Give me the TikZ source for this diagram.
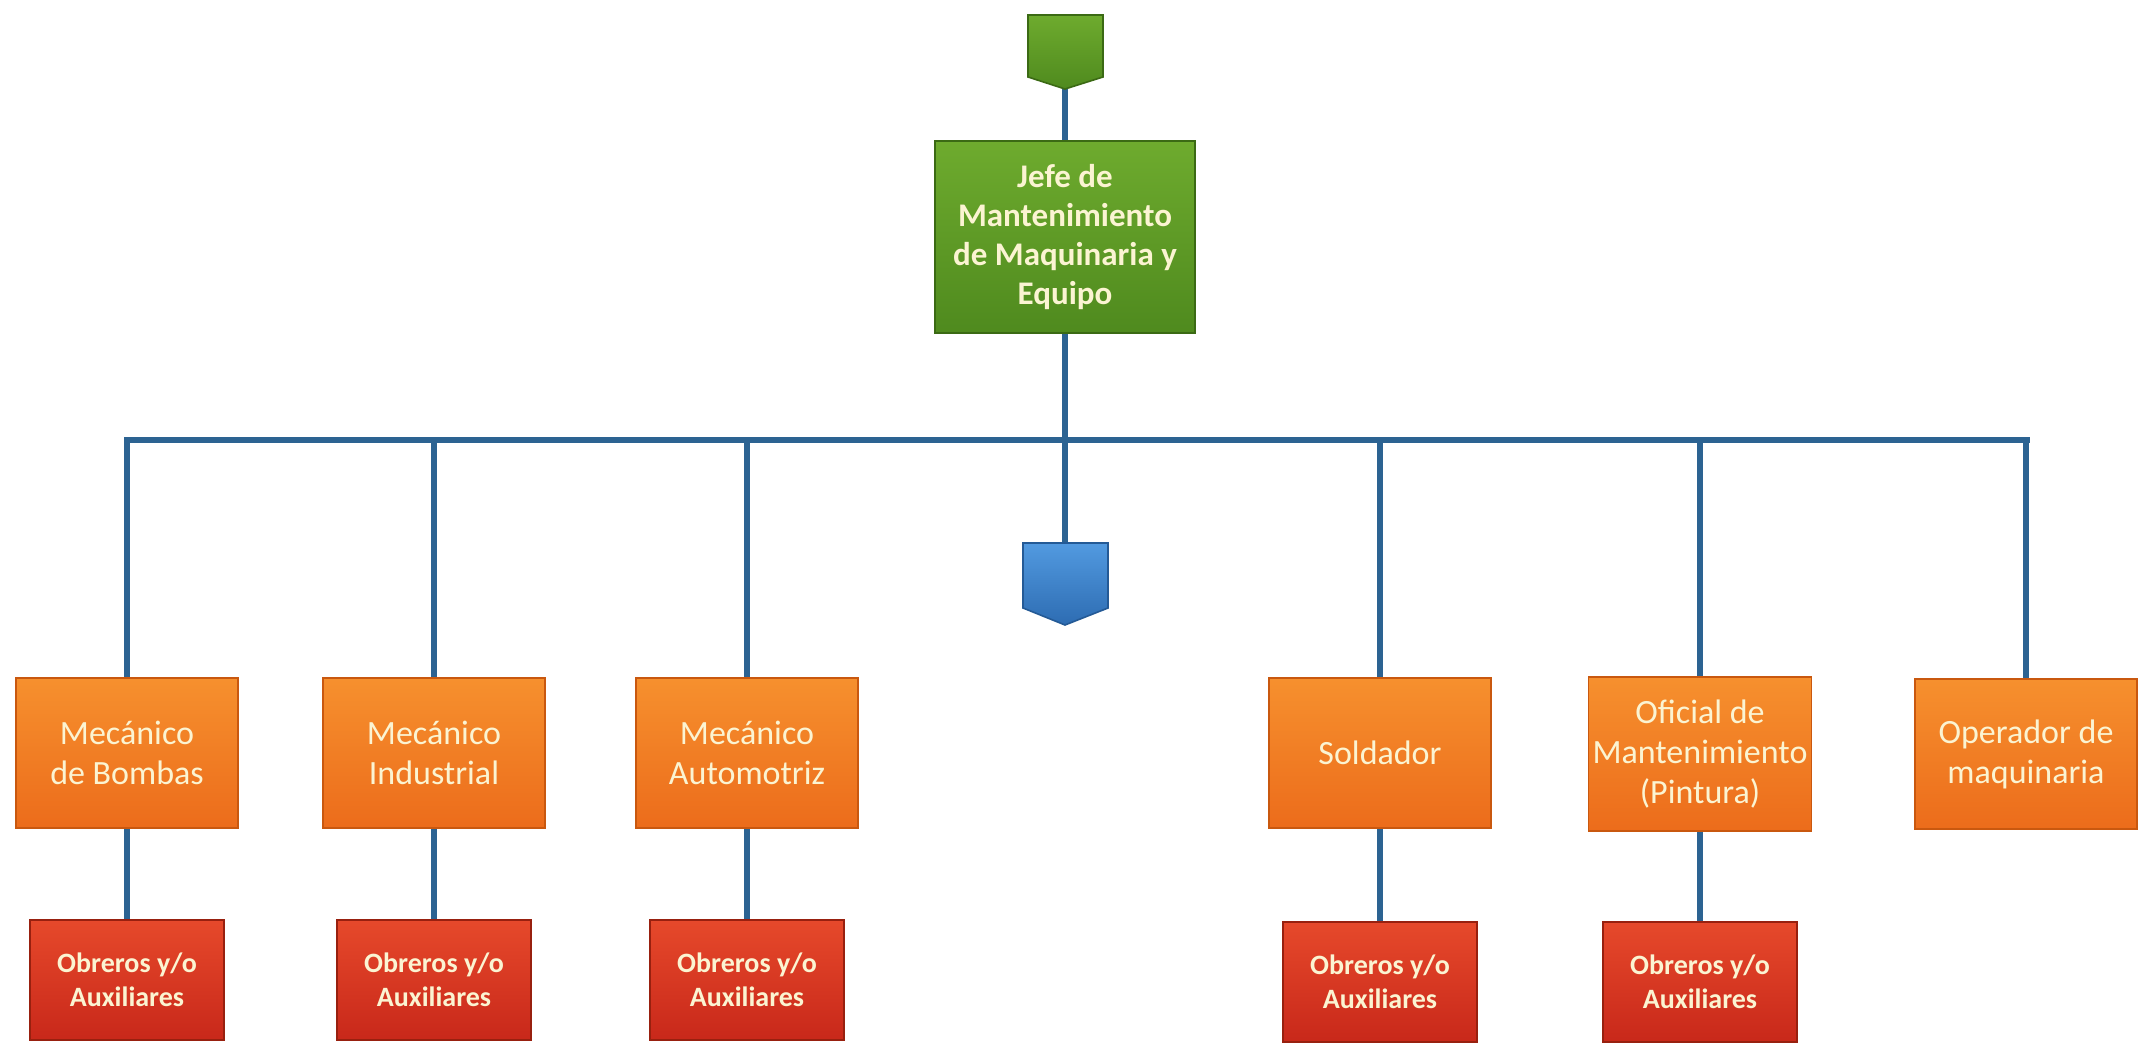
\documentclass[tikz,border=0pt]{standalone}
\usepackage{fontspec}
\setmainfont{Carlito}
\pgfdeclarelayer{background}
\pgfsetlayers{background,main}
\definecolor{linec}{HTML}{2C6392}
\definecolor{txt}{HTML}{FBF4D2}
\definecolor{orT}{HTML}{F6902E}
\definecolor{orB}{HTML}{EC6C1B}
\definecolor{orD}{HTML}{C9580F}
\definecolor{rdT}{HTML}{E6492B}
\definecolor{rdB}{HTML}{C8281A}
\definecolor{rdD}{HTML}{98200F}
\definecolor{grT}{HTML}{6EAB2E}
\definecolor{grB}{HTML}{4F8A1E}
\definecolor{grD}{HTML}{3B6A14}
\definecolor{blT}{HTML}{529AE0}
\definecolor{blB}{HTML}{2D6CB2}
\definecolor{blD}{HTML}{245A96}
\tikzset{
  conn/.style={line width=2.6pt, draw=linec, line cap=rect},
  basebox/.style={rectangle, align=center, text=txt, inner sep=2pt, line width=0.8pt},
  greenbox/.style={basebox, minimum width=130pt, minimum height=96pt, top color=grT, bottom color=grB, draw=grD, font=\bfseries\fontsize{16.5}{19.5}\selectfont},
  orangebox/.style={basebox, minimum width=111pt, minimum height=75pt, top color=orT, bottom color=orB, draw=orD, font=\fontsize{17}{20}\selectfont},
  redbox/.style={basebox, minimum width=97pt, minimum height=60pt, top color=rdT, bottom color=rdB, draw=rdD, font=\bfseries\fontsize{14}{17}\selectfont},
  greenpent/.style={top color=grT, bottom color=grB, draw=grD, line width=0.8pt},
  bluepent/.style={top color=blT, bottom color=blB, draw=blD, line width=0.8pt},
}
\begin{document}
\begin{tikzpicture}[x=0.5pt, y=-0.5pt]
\useasboundingbox (0,0) rectangle (2140,1050);

% nodes
\node[greenbox] (jefe) at (1065,237) {Jefe de\\Mantenimiento\\de Maquinaria y\\Equipo};

\node[orangebox] (o1) at (127,753) {Mecánico\\de Bombas};
\node[orangebox] (o2) at (434,753) {Mecánico\\Industrial};
\node[orangebox] (o3) at (747,753) {Mecánico\\Automotriz};
\node[orangebox] (o4) at (1380,753) {Soldador};
\node[orangebox, minimum height=77pt] (o5) at (1700,754) {Oficial de\\Mantenimiento\\(Pintura)};
\node[orangebox] (o6) at (2026,754) {Operador de\\maquinaria};

\node[redbox] (r1) at (127,980) {Obreros y/o\\Auxiliares};
\node[redbox] (r2) at (434,980) {Obreros y/o\\Auxiliares};
\node[redbox] (r3) at (747,980) {Obreros y/o\\Auxiliares};
\node[redbox] (r4) at (1380,982) {Obreros y/o\\Auxiliares};
\node[redbox] (r5) at (1700,982) {Obreros y/o\\Auxiliares};

% pentagon shapes
\path[greenpent] (1028,15) -- (1103,15) -- (1103,77) -- (1065,89) -- (1028,77) -- cycle;
\coordinate (gtip) at (1065,80);
\path[bluepent] (1023,543) -- (1108,543) -- (1108,608) -- (1065,625) -- (1023,608) -- cycle;
\coordinate (btop) at (1065,550);

\coordinate (hL) at (127,440);
\coordinate (hR) at (2027,440);

% connectors
\begin{pgfonlayer}{background}
\fill[white] (0,0) rectangle (2140,1050);
\draw[conn] (gtip) -- (jefe.north);
\draw[conn] (jefe.south) -- (btop);
\draw[conn] (hL) -- (hR);
\foreach \n in {o1,o2,o3,o4,o5,o6} {
  \draw[conn] (\n.north |- hL) -- (\n.north);
}
\draw[conn] (o1.south) -- (r1.north);
\draw[conn] (o2.south) -- (r2.north);
\draw[conn] (o3.south) -- (r3.north);
\draw[conn] (o4.south) -- (r4.north);
\draw[conn] (o5.south) -- (r5.north);
\end{pgfonlayer}
\end{tikzpicture}
\end{document}
